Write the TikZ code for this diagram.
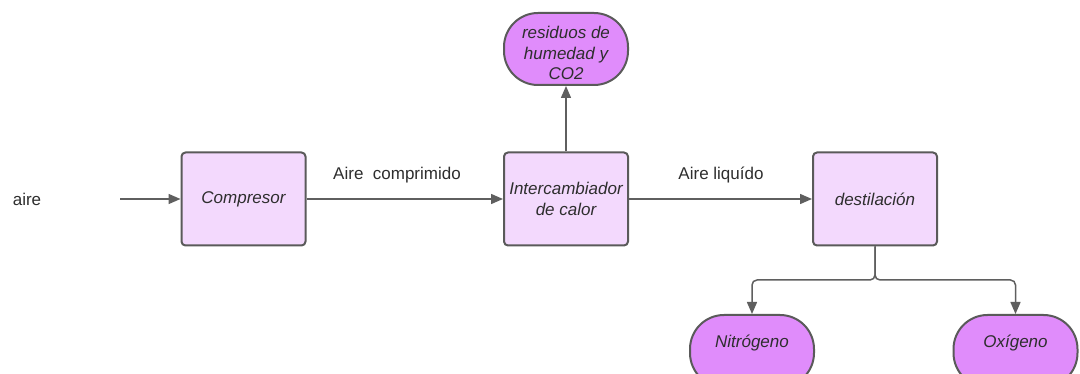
\documentclass[tikz,border=0pt]{standalone}
\usepackage{fontspec}
\setmainfont{Liberation Sans}
\usetikzlibrary{arrows.meta}
\definecolor{boxfill}{HTML}{F3D9FD}
\definecolor{termfill}{HTML}{E08CFB}
\definecolor{edge}{HTML}{5A5A5A}
\definecolor{linec}{HTML}{5F5F5F}
\definecolor{txt}{HTML}{2E2E2E}
\begin{document}
\begin{tikzpicture}[x=1pt,y=-1pt,
  every node/.style={font=\fontsize{17}{20.5}\selectfont,text=txt},
  procbox/.style={draw=edge,line width=2pt,fill=boxfill,rounded corners=4pt,
    minimum width=124pt,minimum height=93pt,inner sep=2pt,align=center,font=\fontsize{17}{20.5}\selectfont\itshape},
  termbox/.style={draw=edge,line width=2pt,fill=termfill,rounded corners=34pt,
    minimum width=124pt,minimum height=72pt,inner sep=2pt,align=center,font=\fontsize{17}{20.5}\selectfont\itshape},
  conn/.style={draw=linec,line width=1.5pt,-{Triangle[length=12pt,width=10pt]}},
  lbl/.style={inner sep=0pt},
  itlbl/.style={inner sep=0pt,align=center,font=\fontsize{17}{20.5}\selectfont\itshape}
]
\useasboundingbox[fill=white] (0,0) rectangle (1080,374);
\node[procbox] (comp) at (243.5,199) {Compresor};
\node[procbox] (inter) at (566,199) {Intercambiador\\de calor};
\node[procbox] (dest) at (875,199) {destilación};
\node[termbox] (res) at (566,49) {};
\node[termbox] (nit) at (752,351) {};
\node[termbox] (oxi) at (1015.5,351) {};
\node[itlbl] (restxt) at (566,53) {residuos de\\humedad y\\CO2};
\node[itlbl] (nittxt) at (752,343) {Nitrógeno};
\node[itlbl] (oxitxt) at (1015.5,343) {Oxígeno};
\node[lbl] (aire) at (27,199) {aire};
\node[lbl] (lcomp) at (397,175) {Aire~~comprimido};
\node[lbl] (lliq) at (721,175) {Aire liquído};
\coordinate (start) at (120,199);
\coordinate (split) at (875,280);
\draw[conn] (start) -- (comp.west);
\draw[conn] (comp.east) -- (inter.west);
\draw[conn] (inter.east) -- (dest.west);
\draw[conn] (inter.north) -- (res.south);
\draw[conn,rounded corners=5pt] (dest.south) -- (split) -| (nit.north);
\draw[conn,rounded corners=5pt] (dest.south) -- (split) -| (oxi.north);
\end{tikzpicture}
\end{document}
